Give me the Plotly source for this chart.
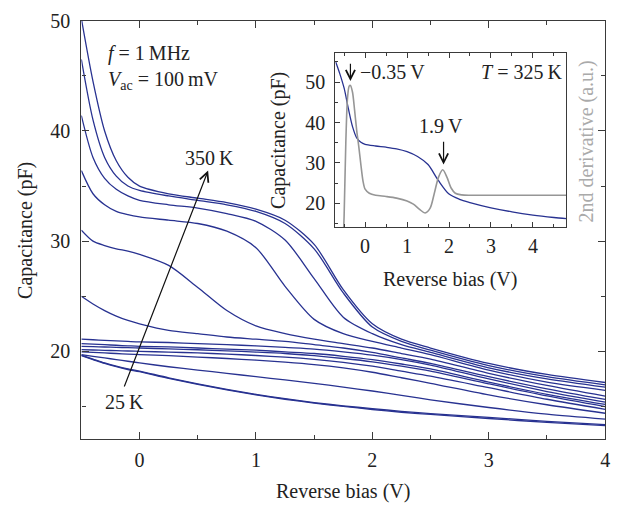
import plotly.graph_objects as go

# ---------------- data ----------------
bias = [-0.5, -0.4, -0.3, -0.2, -0.1, 0.0, 0.25, 0.5, 0.75, 1.0, 1.25, 1.5,
        1.75, 2.0, 2.25, 2.5, 3.0, 3.5, 4.0]

cap_350K = [50.2, 44.5, 40.0, 37.3, 35.8, 35.0, 34.3, 33.9, 33.5, 32.9, 31.9, 29.7, 25.6, 22.5, 21.1, 20.3, 18.9, 17.9, 17.17]
cap_325K = [46.5, 41.0, 37.6, 35.9, 35.0, 34.6, 34.1, 33.7, 33.3, 32.7, 31.6, 29.3, 25.3, 22.2, 20.9, 20.1, 18.7, 17.7, 16.96]
cap_300K = [41.4, 37.6, 35.7, 34.7, 34.1, 33.7, 33.3, 33.0, 32.5, 31.8, 30.1, 26.6, 23.1, 21.6, 20.6, 19.9, 18.5, 17.5, 16.75]
cap_275K = [36.4, 34.3, 33.3, 32.7, 32.4, 32.2, 31.9, 31.6, 30.9, 29.4, 25.9, 22.9, 21.6, 20.9, 20.3, 19.7, 18.3, 17.2, 16.46]
cap_250K = [31.0, 30.0, 29.6, 29.3, 29.1, 28.8, 27.8, 25.8, 23.7, 22.3, 21.6, 21.1, 20.7, 20.3, 19.8, 19.3, 18.0, 16.9, 15.93]
cap_225K = [25.0, 24.3, 23.7, 23.2, 22.8, 22.5, 21.9, 21.6, 21.3, 21.1, 20.9, 20.6, 20.3, 19.9, 19.4, 18.9, 17.7, 16.6, 15.63]
cap_200K = [21.1, 21.05, 21.0, 20.95, 20.9, 20.85, 20.8, 20.7, 20.6, 20.5, 20.35, 20.2, 19.95, 19.65, 19.25, 18.75, 17.5, 16.35, 15.39]
cap_175K = [20.7, 20.65, 20.6, 20.55, 20.5, 20.45, 20.4, 20.3, 20.2, 20.1, 19.95, 19.8, 19.55, 19.25, 18.85, 18.4, 17.2, 16.1, 15.18]
cap_150K = [20.45, 20.42, 20.39, 20.36, 20.33, 20.3, 20.22, 20.14, 20.04, 19.93, 19.8, 19.6, 19.35, 19.05, 18.65, 18.2, 17.05, 15.95, 14.98]
cap_125K = [20.15, 20.12, 20.09, 20.06, 20.03, 20.0, 19.93, 19.85, 19.75, 19.62, 19.47, 19.27, 19.0, 18.65, 18.2, 17.75, 16.7, 15.65, 14.74]
cap_100K = [19.95, 19.9, 19.85, 19.8, 19.75, 19.7, 19.6, 19.48, 19.35, 19.2, 19.02, 18.8, 18.5, 18.1, 17.6, 17.1, 16.05, 15.15, 14.38]
cap_75K = [19.7, 19.55, 19.4, 19.25, 19.1, 18.95, 18.6, 18.3, 18.0, 17.7, 17.4, 17.1, 16.75, 16.4, 16.0, 15.6, 14.9, 14.3, 13.85]
cap_50K = [19.65, 19.3, 18.95, 18.65, 18.4, 18.2, 17.6, 17.05, 16.55, 16.1, 15.7, 15.35, 15.05, 14.8, 14.55, 14.35, 14.0, 13.65, 13.35]
cap_25K = [19.6, 19.25, 18.9, 18.6, 18.35, 18.15, 17.55, 17.0, 16.5, 16.05, 15.65, 15.3, 15.0, 14.72, 14.47, 14.27, 13.9, 13.55, 13.26]

temperatures = ["350 K", "325 K", "300 K", "275 K", "250 K", "225 K", "200 K",
                "175 K", "150 K", "125 K", "100 K", "75 K", "50 K", "25 K"]
curves = [cap_350K, cap_325K, cap_300K, cap_275K, cap_250K, cap_225K, cap_200K,
          cap_175K, cap_150K, cap_125K, cap_100K, cap_75K, cap_50K, cap_25K]

# inset, T = 325 K
inset_bias = [-0.7, -0.6, -0.5, -0.4, -0.3, -0.2, -0.1, 0.0, 0.25, 0.5, 0.75, 1.0,
              1.25, 1.5, 1.75, 2.0, 2.25, 2.5, 3.0, 3.5, 4.0, 4.5, 4.8]
inset_cap = [55.0, 52.0, 48.5, 43.5, 39.0, 36.2, 35.1, 34.6, 34.2, 33.9, 33.5, 32.8,
             31.6, 29.6, 25.6, 22.3, 21.0, 20.2, 18.9, 17.9, 17.1, 16.5, 16.2]

deriv_bias = [-0.54, -0.5, -0.46, -0.42, -0.38, -0.35, -0.3, -0.25, -0.2, -0.15, -0.1,
              -0.05, 0.0, 0.1, 0.25, 0.5, 0.75, 1.0, 1.15, 1.3, 1.43, 1.55, 1.65,
              1.75, 1.85, 1.95, 2.05, 2.15, 2.3, 2.5, 3.0, 4.0, 4.8]
deriv_val = [5.0, 17.0, 35.0, 46.0, 49.0, 49.2, 47.5, 43.0, 38.0, 34.0, 29.5,
             25.5, 23.5, 22.5, 22.0, 21.7, 21.3, 20.6, 19.8, 18.5, 17.6, 18.8, 22.5,
             26.5, 28.3, 26.5, 23.8, 22.5, 22.1, 22.0, 22.0, 22.0, 22.0]

main_xticks = [0, 1, 2, 3, 4]
main_yticks = [20, 30, 40, 50]
inset_xticks = [0, 1, 2, 3, 4]
inset_yticks = [20, 30, 40, 50]

# ---------------- figure ----------------
W, H = 631, 505
BLUE = "rgb(40,50,145)"
GRAY = "rgb(150,150,150)"
AX = "#3a3a3a"
FONT = "Liberation Serif, Times New Roman, serif"
FS = 20

def px(x):
    return x / W

def py(y):
    return 1 - y / H

fig = go.Figure()

for name, vals in zip(temperatures, curves):
    fig.add_trace(go.Scatter(x=bias, y=vals, mode="lines", name=name,
                             line=dict(color=BLUE, width=1.3, shape="spline", smoothing=0.8),
                             xaxis="x", yaxis="y", showlegend=False))

fig.add_trace(go.Scatter(x=inset_bias, y=inset_cap, mode="lines",
                         line=dict(color=BLUE, width=1.3, shape="spline", smoothing=0.8),
                         xaxis="x2", yaxis="y2", showlegend=False))
fig.add_trace(go.Scatter(x=deriv_bias, y=deriv_val, mode="lines",
                         line=dict(color=GRAY, width=1.6, shape="spline", smoothing=0.8),
                         xaxis="x2", yaxis="y3", showlegend=False))

common = dict(showgrid=False, zeroline=False, showline=True, linecolor=AX, linewidth=1.3,
              ticks="inside", tickcolor=AX, tickwidth=1.2, ticklen=7,
              ticklabeloverflow="allow",
              tickfont=dict(family=FONT, size=FS, color="#222"))

fig.update_layout(
    width=W, height=H,
    margin=dict(l=0, r=0, t=0, b=0),
    paper_bgcolor="white", plot_bgcolor="white",
    font=dict(family=FONT, size=FS, color="#222"),
    xaxis=dict(domain=[px(82), px(610)], range=[-0.5, 4], tickvals=main_xticks,
               mirror="ticks", anchor="y", ticklabelstandoff=2,
               minor=dict(dtick=0.5, tick0=0, ticks="inside", ticklen=4, tickcolor=AX, showgrid=False),
               **common),
    yaxis=dict(domain=[py(438), py(10)], range=[12, 50], tickvals=main_yticks,
               mirror="ticks", anchor="x", ticklabelstandoff=6,
               minor=dict(dtick=5, tick0=0, ticks="inside", ticklen=4, tickcolor=AX, showgrid=False),
               **common),
    xaxis2=dict(domain=[px(338), px(571)], range=[-0.71, 4.8], tickvals=inset_xticks,
                mirror="ticks", anchor="y2", ticklabelstandoff=1,
                minor=dict(dtick=0.5, tick0=0, ticks="inside", ticklen=3, tickcolor=AX, showgrid=False),
                **{**common, "ticklen": 5}),
    yaxis2=dict(domain=[py(221), py(43)], range=[14.1, 57.2], tickvals=inset_yticks,
                mirror=True, anchor="x2", ticklabelstandoff=5,
                minor=dict(dtick=5, tick0=0, ticks="inside", ticklen=3, tickcolor=AX, showgrid=False),
                **{**common, "ticklen": 5}),
    yaxis3=dict(overlaying="y2", anchor="x2", side="right", range=[14.1, 57.2],
                showgrid=False, zeroline=False, showline=False, showticklabels=False, ticks=""),
)

ann = []

def text(x, y, s, size=FS, xanchor="center", yanchor="middle", angle=0, color="#222"):
    ann.append(dict(x=px(x), y=py(y), xref="paper", yref="paper", text=s, showarrow=False,
                    xanchor=xanchor, yanchor=yanchor, textangle=angle,
                    font=dict(family=FONT, size=size, color=color)))

# axis titles
text(346, 491, "Reverse bias (V)")
text(25, 224, "Capacitance (pF)", angle=-90)
text(454, 274, "Reverse bias (V)")
text(280, 132, "Capacitance (pF)", angle=-90)
text(591, 133, "2nd derivative (a.u.)", angle=-90, color="rgb(170,170,170)")

# conditions
text(107, 43, "<i>f</i> = 1\u2009MHz", xanchor="left")
text(107, 71, "<i>V</i><sub>ac</sub> = 100\u2009mV", xanchor="left")

# temperature arrow labels
text(211, 150, "350\u2009K")
text(125, 400, "25\u2009K")

# inset labels
text(361, 62, "\u22120.35\u2009V", xanchor="left")
text(569, 62, "<i>T</i> = 325\u2009K", xanchor="right")
text(445, 118, "1.9\u2009V")

fig.update_layout(annotations=ann)

# arrows
fig.add_annotation(x=0.589, y=36.4, ax=-0.136, ay=16.67, xref="x", yref="y", axref="x", ayref="y",
                   text="", showarrow=True, arrowhead=5, arrowsize=1.5, arrowwidth=1.2, arrowcolor="#111")
fig.add_annotation(x=-0.35, y=50.3, ax=-0.35, ay=54.9, xref="x2", yref="y2", axref="x2", ayref="y2",
                   text="", showarrow=True, arrowhead=5, arrowsize=1.5, arrowwidth=1.2, arrowcolor="#111")
fig.add_annotation(x=1.87, y=29.6, ax=1.87, ay=35.6, xref="x2", yref="y2", axref="x2", ayref="y2",
                   text="", showarrow=True, arrowhead=5, arrowsize=1.5, arrowwidth=1.2, arrowcolor="#111")

fig.write_html("out.html")
